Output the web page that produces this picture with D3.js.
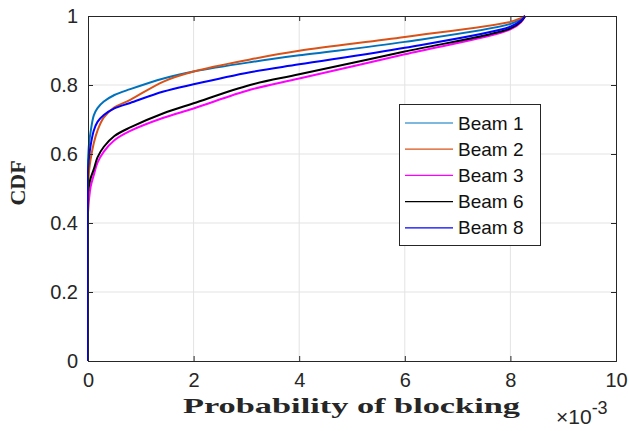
<!DOCTYPE html>
<html><head><meta charset="utf-8">
<script src="https://cdn.jsdelivr.net/npm/d3@7"></script>
<style>body{margin:0;background:#fff}svg{display:block}</style>
</head><body>
<script>
// x in units of 1e-3; first point of each series is the jump at zero
const xs = [0, 0, 0.02, 0.05, 0.11, 0.18, 0.3, 0.5, 0.8, 1.43, 2, 3.07, 4, 6, 8, 8.2, 8.28];
const beam1 = [0, 0.58, 0.63, 0.665, 0.712, 0.733, 0.752, 0.771, 0.788, 0.819, 0.839, 0.866, 0.886, 0.925, 0.977, 0.992, 1];
const beam2 = [0, 0.50, 0.55, 0.585, 0.632, 0.668, 0.706, 0.735, 0.757, 0.810, 0.839, 0.874, 0.899, 0.939, 0.983, 0.994, 1];
const beam3 = [0, 0.43, 0.47, 0.505, 0.539, 0.575, 0.607, 0.640, 0.667, 0.705, 0.732, 0.786, 0.819, 0.889, 0.961, 0.982, 1];
const beam6 = [0, 0.49, 0.51, 0.530, 0.556, 0.590, 0.621, 0.652, 0.677, 0.718, 0.747, 0.800, 0.831, 0.897, 0.964, 0.984, 1];
const beam8 = [0, 0.55, 0.59, 0.625, 0.668, 0.693, 0.713, 0.732, 0.748, 0.781, 0.802, 0.837, 0.860, 0.908, 0.969, 0.987, 1];
const seriesNames = ["Beam 1", "Beam 2", "Beam 3", "Beam 6", "Beam 8"];
const seriesColors = ["#0072BD", "#D95319", "#FF00FF", "#000000", "#0000FF"];
const seriesValues = [beam1, beam2, beam3, beam6, beam8];
const xTicks = [0, 2, 4, 6, 8, 10];
const yTicks = [0, 0.2, 0.4, 0.6, 0.8, 1];

const W = 629, H = 431;
const L = 88, R = 616, T = 16, B = 361;
const svg = d3.select("body").append("svg").attr("width", W).attr("height", H);
const x = d3.scaleLinear().domain([0, 10]).range([L, R]);
const y = d3.scaleLinear().domain([0, 1]).range([B, T]);
const axisCol = "#262626";

// grid
const g = svg.append("g");
g.selectAll(".gx").data(xTicks.slice(1, -1)).enter().append("line")
  .attr("x1", d => x(d)).attr("x2", d => x(d)).attr("y1", T).attr("y2", B)
  .attr("stroke", "#e3e3e3").attr("stroke-width", 1);
g.selectAll(".gy").data(yTicks.slice(1, -1)).enter().append("line")
  .attr("y1", d => y(d)).attr("y2", d => y(d)).attr("x1", L).attr("x2", R)
  .attr("stroke", "#e3e3e3").attr("stroke-width", 1);

// lines: vertical jump at zero, then smooth curve through the read points
const curve = d3.line().x(d => x(d[0])).y(d => y(d[1])).curve(d3.curveCatmullRom.alpha(0.5));
seriesValues.forEach((vals, i) => {
  const pts = xs.map((xv, j) => [xv, vals[j]]);
  const jump = `M${x(pts[0][0])},${y(pts[0][1])}L${x(pts[1][0])},${y(pts[1][1])}`;
  const rest = curve(pts.slice(1)).replace(/^M/, "L");
  svg.append("path").attr("d", jump + rest)
    .attr("fill", "none").attr("stroke", seriesColors[i]).attr("stroke-width", 2)
    .attr("stroke-linejoin", "round");
});

// axes
const fontSans = "'Liberation Sans', Arial, Helvetica, sans-serif";
const xAxisB = d3.axisBottom(x).tickValues(xTicks).tickSize(-5).tickPadding(12).tickFormat(d3.format("d"));
const xAxisT = d3.axisTop(x).tickValues(xTicks).tickSize(-5).tickFormat("");
const yAxisL = d3.axisLeft(y).tickValues(yTicks).tickSize(-5).tickPadding(10).tickFormat(d => d === 0 || d === 1 ? String(d) : d3.format(".1f")(d));
const yAxisR = d3.axisRight(y).tickValues(yTicks).tickSize(-5).tickFormat("");
function style(sel) {
  sel.select(".domain").attr("stroke", axisCol).attr("stroke-width", 1);
  sel.selectAll(".tick line").attr("stroke", axisCol);
  sel.selectAll("text").attr("font-family", fontSans).attr("font-size", 20).attr("fill", "#262626");
}
svg.append("g").attr("transform", `translate(0,${B})`).call(xAxisB).call(style);
svg.append("g").attr("transform", `translate(0,${T})`).call(xAxisT).call(style);
svg.append("g").attr("transform", `translate(${L},0)`).call(yAxisL).call(style);
svg.append("g").attr("transform", `translate(${R},0)`).call(yAxisR).call(style);

// labels
const fontSerif = "'Liberation Serif', 'Times New Roman', serif";
svg.append("text").attr("x", 351.5).attr("y", 413).attr("text-anchor", "middle")
  .attr("font-family", fontSerif).attr("font-weight", "bold").attr("font-size", 22)
  .attr("textLength", 337).attr("lengthAdjust", "spacingAndGlyphs")
  .attr("fill", "#262626").text("Probability of blocking");
svg.append("text").attr("transform", "translate(25,183) rotate(-90)").attr("text-anchor", "middle")
  .attr("font-family", fontSerif).attr("font-weight", "bold").attr("font-size", 22)
  .attr("fill", "#262626").text("CDF");
const mult = svg.append("text").attr("x", 556).attr("y", 424)
  .attr("font-family", fontSans).attr("font-size", 21).attr("fill", "#262626");
mult.append("tspan").text("\u00d710");
mult.append("tspan").attr("dy", -10).attr("font-size", 18).text("-3");

// legend
const lg = svg.append("g");
lg.append("rect").attr("x", 399.5).attr("y", 104.5).attr("width", 141).attr("height", 141)
  .attr("fill", "#fff").attr("stroke", axisCol).attr("stroke-width", 1);
seriesNames.forEach((n, i) => {
  const cy = 123 + i * 26.2;
  lg.append("line").attr("x1", 405).attr("x2", 453).attr("y1", cy).attr("y2", cy)
    .attr("stroke", seriesColors[i]).attr("stroke-width", 1.2);
  lg.append("text").attr("x", 458).attr("y", cy + 6.5).attr("font-family", fontSans)
    .attr("font-size", 19).attr("fill", "#111").text(n);
});
</script>
</body></html>
